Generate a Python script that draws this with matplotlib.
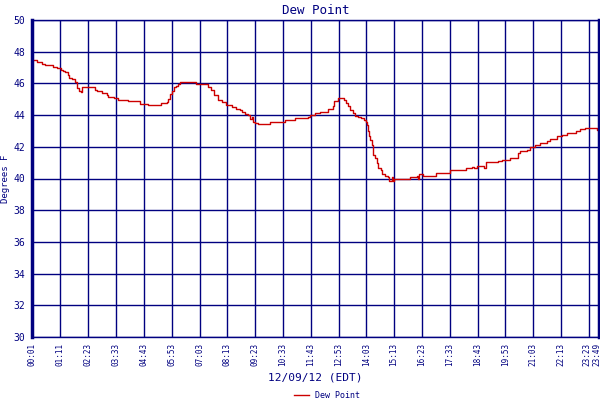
import numpy as np
import matplotlib
matplotlib.use('Agg')
import matplotlib.pyplot as plt
import matplotlib.transforms as mtrans

# Dew point readings, 12/09/12 (minutes after midnight, deg F)
minutes = [1, 14, 26, 34, 54, 64, 74, 79, 84, 92, 94, 102, 109, 114, 119, 124,
           127, 160, 165, 177, 190, 192, 207, 218, 243, 250, 273, 293, 326, 341,
           344, 349, 354, 359, 364, 369, 374, 414, 444, 452, 459, 469, 480, 490,
           505, 515, 525, 530, 537, 545, 550, 555, 558, 563, 570, 600, 638, 663,
           696, 701, 714, 726, 746, 759, 762, 772, 787, 792, 797, 802, 809, 814,
           822, 830, 837, 842, 845, 847, 850, 852, 857, 860, 865, 870, 872, 880,
           882, 890, 898, 900, 908, 910, 913, 933, 953, 971, 973, 976, 986, 1018,
           1054, 1094, 1109, 1114, 1122, 1139, 1144, 1160, 1175, 1185, 1205, 1225,
           1230, 1248, 1255, 1268, 1280, 1298, 1306, 1323, 1336, 1348, 1371, 1381,
           1394, 1424, 1429]
dewpt = [47.46, 47.35, 47.25, 47.16, 47.03, 46.95, 46.85, 46.8, 46.7, 46.55,
         46.36, 46.26, 46.1, 45.69, 45.55, 45.44, 45.75, 45.6, 45.5, 45.37,
         45.25, 45.14, 45.05, 44.95, 44.9, 44.9, 44.72, 44.62, 44.75, 44.85,
         45.0, 45.3, 45.55, 45.75, 45.85, 45.95, 46.06, 45.96, 45.8, 45.58,
         45.27, 44.95, 44.83, 44.66, 44.53, 44.4, 44.35, 44.21, 44.07, 44.0,
         43.75, 43.85, 43.56, 43.48, 43.42, 43.55, 43.67, 43.84, 43.85, 44.0,
         44.11, 44.21, 44.36, 44.6, 44.87, 45.06, 44.95, 44.74, 44.55, 44.32,
         44.15, 43.96, 43.9, 43.83, 43.69, 43.58, 43.38, 43.0, 42.7, 42.43,
         42.11, 41.48, 41.27, 40.96, 40.64, 40.54, 40.28, 40.16, 40.11, 39.84,
         40.1, 39.86, 39.95, 40.0, 40.07, 40.15, 40.0, 40.27, 40.14, 40.33,
         40.52, 40.64, 40.7, 40.64, 40.79, 40.65, 41.02, 41.06, 41.12, 41.18,
         41.31, 41.63, 41.73, 41.8, 41.97, 42.09, 42.24, 42.38, 42.49, 42.66,
         42.76, 42.89, 43.01, 43.1, 43.17, 43.06, 43.06]

tick_labels = ['00:01', '01:11', '02:23', '03:33', '04:43', '05:53', '07:03',
               '08:13', '09:23', '10:33', '11:43', '12:53', '14:03', '15:13',
               '16:23', '17:33', '18:43', '19:53', '21:03', '22:13', '23:23',
               '23:49']
tick_pos = [int(t[:2]) * 60 + int(t[3:]) for t in tick_labels]

navy = '#000080'
plt.rcParams['font.family'] = 'DejaVu Sans Mono'

fig = plt.figure(figsize=(6, 4), dpi=100)
ax = fig.add_axes([32/600, 63/400, 567/600, 317/400])

ax.plot(minutes, dewpt, color='#cc0000', lw=1.0, drawstyle='steps-post',
        label='Dew Point')

ax.set_xlim(1, 1429)
ax.set_ylim(30, 50)
ax.set_yticks(np.arange(30, 51, 2))
ax.set_xticks(tick_pos)
ax.set_xticklabels(tick_labels, rotation=90, fontsize=5.5, color=navy)
ax.tick_params(axis='y', labelsize=7, colors=navy, length=0, pad=5)
ax.tick_params(axis='x', length=0, pad=4)
ax.grid(True, color=navy, lw=1)
for s in ax.spines.values():
    s.set_color(navy)
    s.set_linewidth(1)
ax.spines['left'].set_linewidth(2.5)
ax.spines['right'].set_linewidth(2.5)

# the last two labels crowd the right edge, nudge them in a little
for lab, dx in zip(ax.get_xticklabels()[-2:], [-1.5, -2.5]):
    lab.set_transform(lab.get_transform() +
                      mtrans.ScaledTranslation(dx/100, 0, fig.dpi_scale_trans))

ax.set_title('Dew Point', color=navy, fontsize=9, pad=4)
ax.set_ylabel('Degrees F', color=navy, fontsize=6.5)
ax.yaxis.set_label_coords(-22/567, 0.5)
ax.set_xlabel('12/09/12 (EDT)', color=navy, fontsize=8, labelpad=5)
ax.legend(loc='upper center', bbox_to_anchor=(0.52, -0.16), frameon=False,
          fontsize=6, handlelength=1.8, labelcolor=navy, borderaxespad=0)

fig.savefig('out.png', dpi=100)
